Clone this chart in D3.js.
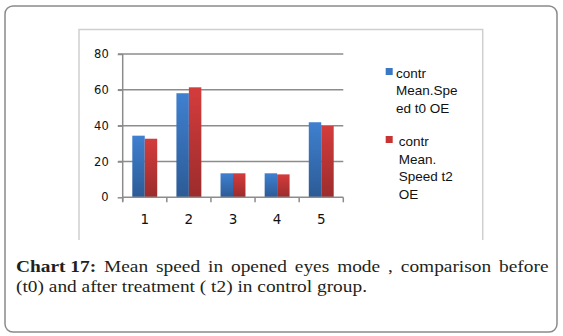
<!DOCTYPE html>
<html>
<head>
<meta charset="utf-8">
<script src="https://cdn.jsdelivr.net/npm/d3@7"></script>
<style>
  html, body { margin: 0; padding: 0; background: #fff; }
  svg { display: block; }
</style>
</head>
<body>
<div id="chart"></div>
<script>
// groups on the x axis and the two measurement series
var categories = ["1", "2", "3", "4", "5"];
var speedT0 = [34.4, 58.1, 13.4, 13.4, 41.9];
var speedT2 = [32.7, 61.4, 13.4, 12.8, 39.8];
var yTicks = [0, 20, 40, 60, 80];
var seriesNames = ["t0", "t2"];
var legendLines = [
  ["contr", "Mean.Spe", "ed t0 OE"],
  ["contr", "Mean.", "Speed t2", "OE"]
];
var captionBold = "Chart 17:";
var captionLine1 = "Mean speed in opened eyes mode , comparison before";
var captionLine2 = "(t0) and after treatment ( t2) in control group.";

var W = 563, H = 336;
var svg = d3.select("#chart").append("svg")
  .attr("width", W)
  .attr("height", H);

var defs = svg.append("defs");
function grad(id, top, bottom) {
  var g = defs.append("linearGradient").attr("id", id)
    .attr("x1", 0).attr("y1", 0).attr("x2", 0).attr("y2", 1);
  g.append("stop").attr("offset", "0%").attr("stop-color", top);
  g.append("stop").attr("offset", "100%").attr("stop-color", bottom);
}
grad("gBlue", "#3f80d0", "#2c5b96");
grad("gRed", "#d43c3c", "#9c2c2c");
var fills = ["url(#gBlue)", "url(#gRed)"];
var swatch = ["#3a78c6", "#c83434"];

// outer frame
svg.append("rect")
  .attr("x", 5).attr("y", 6)
  .attr("width", 552).attr("height", 326)
  .attr("rx", 8).attr("ry", 8)
  .attr("fill", "#fff")
  .attr("stroke", "#8a8a8a")
  .attr("stroke-width", 1.5);

// chart area frame (open at the bottom)
svg.append("path")
  .attr("d", "M79,240 V29.5 H482.7 V240")
  .attr("fill", "none")
  .attr("stroke", "#cfcfcf")
  .attr("stroke-width", 1.5);

var x = d3.scaleBand().domain(categories).range([122.7, 343.3]);
var x1 = d3.scaleBand().domain(seriesNames).range([9.6, x.bandwidth() - 9.6]);
var y = d3.scaleLinear().domain([0, 80]).range([197.3, 54]);

var axisColor = "#8c8c8c";

// horizontal gridlines
svg.append("g").selectAll("line")
  .data(yTicks.filter(function (d) { return d > 0; }))
  .enter().append("line")
  .attr("x1", 118).attr("x2", 343.3)
  .attr("y1", function (d) { return y(d); })
  .attr("y2", function (d) { return y(d); })
  .attr("stroke", axisColor)
  .attr("stroke-width", 1.5);

// bars
var rows = categories.map(function (c, i) {
  return { cat: c, vals: [speedT0[i], speedT2[i]] };
});
svg.append("g").selectAll("g")
  .data(rows)
  .enter().append("g")
  .attr("transform", function (d) { return "translate(" + x(d.cat) + ",0)"; })
  .selectAll("rect")
  .data(function (d) { return d.vals; })
  .enter().append("rect")
  .attr("x", function (d, i) { return x1(seriesNames[i]); })
  .attr("width", x1.bandwidth())
  .attr("y", function (d) { return y(d); })
  .attr("height", function (d) { return y(0) - y(d); })
  .attr("fill", function (d, i) { return fills[i]; });

// y axis
var yAxis = d3.axisLeft(y).tickValues(yTicks).tickSize(5).tickPadding(9);
var gy = svg.append("g").attr("transform", "translate(122.7,0)").call(yAxis);
gy.select(".domain").attr("d", "M0," + y(80) + "V" + (y(0) + 4)).attr("stroke", axisColor).attr("stroke-width", 1.5);
gy.selectAll(".tick line").attr("stroke", axisColor).attr("stroke-width", 1.5);
gy.selectAll("text")
  .attr("font-family", "DejaVu Sans, sans-serif")
  .attr("font-size", "11.5px")
  .attr("fill", "#111");

// x axis: labels centred on groups, ticks between groups
var xAxis = d3.axisBottom(x).tickSize(0).tickPadding(17);
var gx = svg.append("g").attr("transform", "translate(0," + y(0) + ")").call(xAxis);
gx.select(".domain").attr("d", "M122.7,0H343.3").attr("stroke", axisColor).attr("stroke-width", 1.5);
gx.selectAll("text")
  .attr("font-family", "DejaVu Sans, sans-serif")
  .attr("font-size", "13.5px")
  .attr("fill", "#111");
var bounds = categories.map(function (c) { return x(c); }).concat([x.range()[1]]);
gx.selectAll(".bound")
  .data(bounds)
  .enter().append("line")
  .attr("class", "bound")
  .attr("x1", function (d) { return d; })
  .attr("x2", function (d) { return d; })
  .attr("y1", 0).attr("y2", 5)
  .attr("stroke", axisColor)
  .attr("stroke-width", 1.5);

// legend
var legendTop = [68, 136];
var legendTextX = [396, 398.7];
var legendBase = [77.7, 146];
legendLines.forEach(function (lines, i) {
  var g = svg.append("g");
  g.append("rect")
    .attr("x", 385.7).attr("y", legendTop[i])
    .attr("width", 7).attr("height", 7)
    .attr("fill", swatch[i]);
  var t = g.append("text")
    .attr("font-family", "Liberation Sans, Arial, sans-serif")
    .attr("font-size", "13.5px")
    .attr("fill", "#111");
  lines.forEach(function (s, k) {
    t.append("tspan")
      .attr("x", legendTextX[i])
      .attr("y", legendBase[i] + k * 17.6)
      .text(s);
  });
});

// caption: glyphs widened a little, first line justified between the margins
var capLeft = 16, capRight = 548.5, line2Right = 367;
var capFont = "Liberation Serif, Times New Roman, serif";
var cap = svg.append("g")
  .attr("font-family", capFont)
  .attr("font-size", "16px")
  .attr("fill", "#231f20");

var second = cap.append("text")
  .attr("x", capLeft)
  .attr("y", 291.5)
  .text(captionLine2);
var natural2 = second.node().getComputedTextLength();
var stretch = (line2Right - capLeft) / natural2;
second.attr("textLength", line2Right - capLeft).attr("lengthAdjust", "spacingAndGlyphs");

var words = [{ s: captionBold, bold: true }].concat(
  captionLine1.split(" ").map(function (w) { return { s: w, bold: false }; }));
var nodes = words.map(function (w) {
  var n = cap.append("text")
    .attr("y", 272)
    .attr("font-weight", w.bold ? "bold" : "normal")
    .text(w.s);
  var len = n.node().getComputedTextLength() * stretch;
  n.attr("textLength", len).attr("lengthAdjust", "spacingAndGlyphs");
  return { n: n, len: len };
});
var total = d3.sum(nodes, function (d) { return d.len; });
var gap = (capRight - capLeft - total) / (nodes.length - 1);
var cx = capLeft;
nodes.forEach(function (d) {
  d.n.attr("x", cx);
  cx += d.len + gap;
});
</script>
</body>
</html>
